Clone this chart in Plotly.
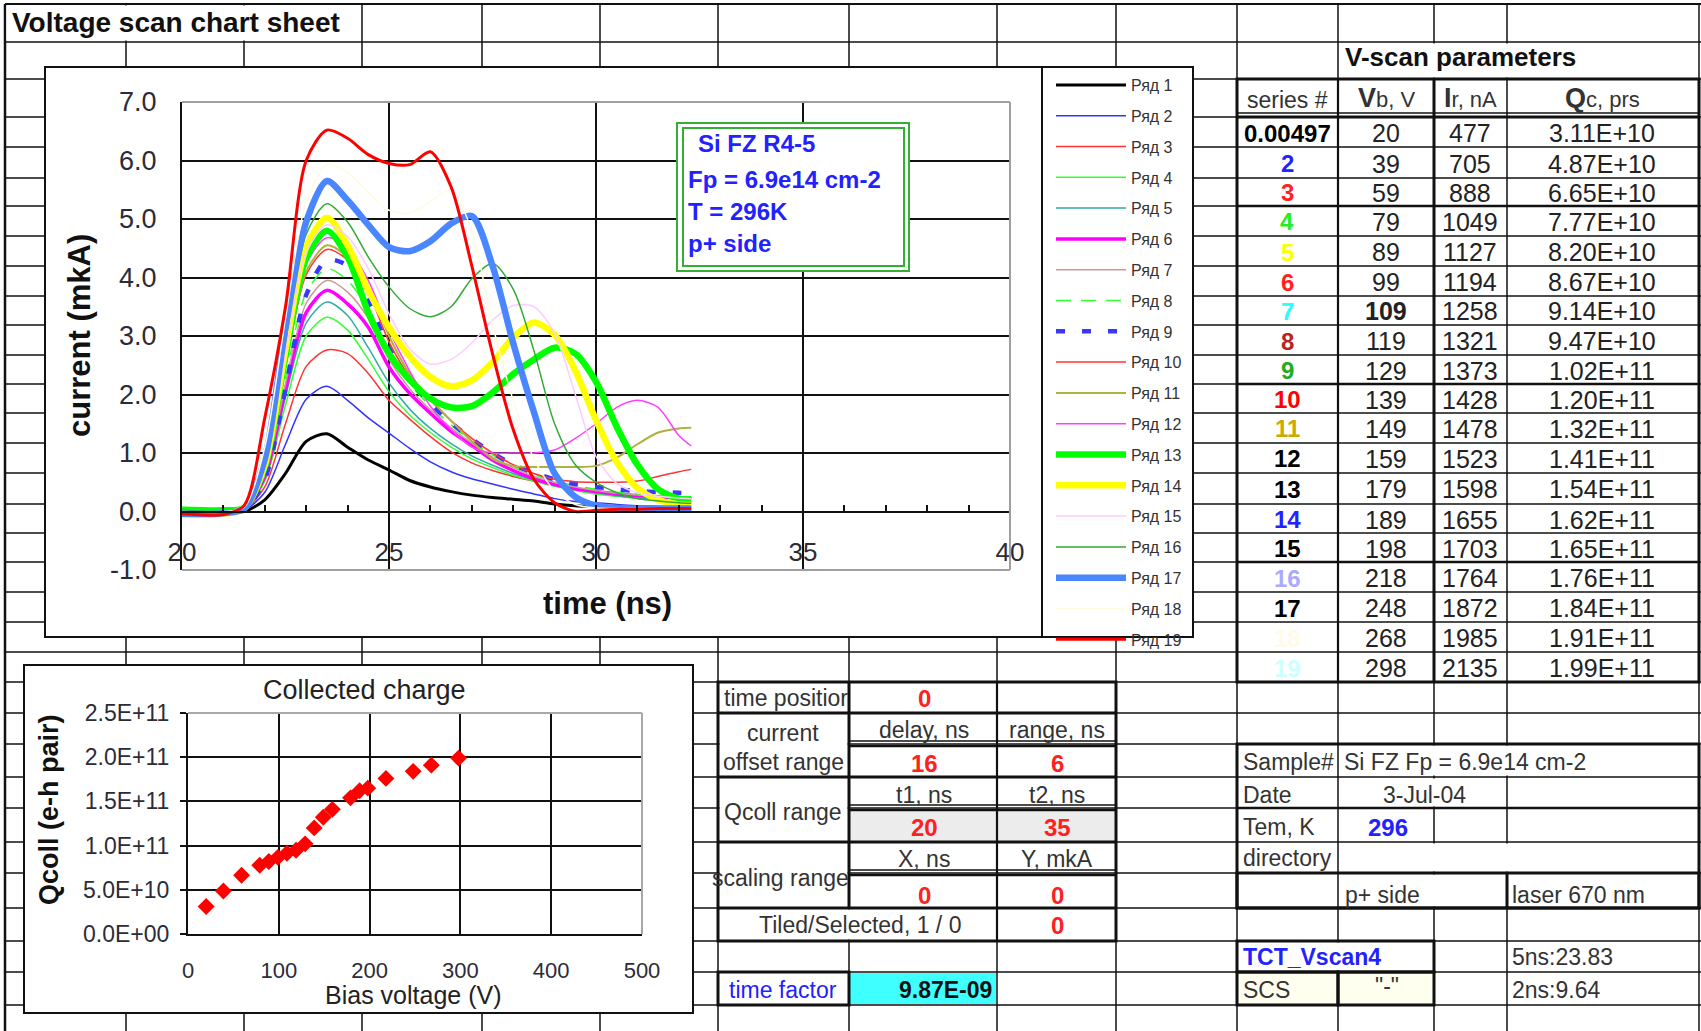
import plotly.graph_objects as go

W, H = 1701, 1031
def px(x): return x / W
def py(y): return 1 - y / H

# ---------------- data ----------------
time_ns = [20, 21, 21.5, 22, 22.5, 23, 23.5, 24, 24.5, 25, 25.5, 26, 26.5, 27, 27.5,
           28, 28.5, 29, 29.5, 30, 30.5, 31, 31.5, 32, 32.3]

series_names = ["Ряд 1", "Ряд 2", "Ряд 3", "Ряд 4", "Ряд 5", "Ряд 6", "Ряд 7", "Ряд 8",
                "Ряд 9", "Ряд 10", "Ряд 11", "Ряд 12", "Ряд 13", "Ряд 14", "Ряд 15",
                "Ряд 16", "Ряд 17", "Ряд 18", "Ряд 19"]

s1 = [0.00, 0.01, 0.00, 0.20, 0.65, 1.20, 1.33, 1.10, 0.88, 0.71, 0.53, 0.42, 0.34, 0.28, 0.24, 0.21, 0.18, 0.13, 0.10, 0.085, 0.07, 0.06, 0.05, 0.035, 0.03]
s2 = [0.01, 0.00, 0.02, 0.33, 1.15, 1.92, 2.14, 1.90, 1.60, 1.34, 1.08, 0.85, 0.68, 0.56, 0.47, 0.38, 0.30, 0.22, 0.17, 0.15, 0.12, 0.10, 0.09, 0.08, 0.08]
s3 = [-0.02, 0.00, 0.03, 0.42, 1.50, 2.48, 2.76, 2.70, 2.36, 1.90, 1.58, 1.28, 1.02, 0.83, 0.70, 0.60, 0.52, 0.45, 0.40, 0.35, 0.31, 0.28, 0.26, 0.24, 0.23]
s4 = [0.02, 0.01, 0.03, 0.52, 1.82, 3.00, 3.32, 3.10, 2.60, 2.05, 1.65, 1.35, 1.10, 0.90, 0.75, 0.62, 0.52, 0.43, 0.36, 0.30, 0.26, 0.22, 0.19, 0.16, 0.15]
s5 = [0.00, -0.02, 0.04, 0.56, 1.96, 3.22, 3.58, 3.35, 2.80, 2.20, 1.75, 1.42, 1.16, 0.95, 0.79, 0.65, 0.54, 0.45, 0.38, 0.32, 0.27, 0.23, 0.20, 0.17, 0.16]
s6 = [-0.03, -0.02, 0.04, 0.60, 2.08, 3.40, 3.78, 3.55, 3.15, 2.47, 2.02, 1.68, 1.37, 1.13, 0.88, 0.70, 0.56, 0.46, 0.39, 0.34, 0.30, 0.27, 0.25, 0.23, 0.22]
s7 = [0.01, 0.00, 0.04, 0.62, 2.18, 3.56, 3.95, 3.75, 3.30, 2.60, 2.10, 1.74, 1.43, 1.17, 0.93, 0.75, 0.60, 0.50, 0.42, 0.36, 0.31, 0.28, 0.26, 0.24, 0.23]
s8 = [0.02, 0.03, 0.05, 0.66, 2.28, 3.74, 4.15, 3.95, 3.45, 2.70, 2.18, 1.80, 1.48, 1.20, 0.97, 0.78, 0.63, 0.52, 0.44, 0.38, 0.33, 0.30, 0.28, 0.26, 0.25]
s9 = [0.00, 0.01, 0.03, 0.55, 2.10, 3.70, 4.30, 4.20, 3.60, 2.80, 2.25, 1.85, 1.52, 1.24, 1.00, 0.80, 0.66, 0.55, 0.47, 0.42, 0.38, 0.35, 0.33, 0.32, 0.31]
s10 = [-0.02, 0.00, 0.05, 0.72, 2.48, 4.05, 4.48, 4.30, 3.75, 2.90, 2.30, 1.90, 1.55, 1.25, 1.00, 0.80, 0.65, 0.55, 0.51, 0.50, 0.50, 0.52, 0.60, 0.68, 0.72]
s11 = [0.01, 0.02, 0.05, 0.73, 2.50, 4.10, 4.55, 4.35, 3.85, 3.00, 2.35, 1.92, 1.55, 1.20, 0.90, 0.78, 0.76, 0.76, 0.76, 0.78, 0.92, 1.15, 1.35, 1.42, 1.43]
s12 = [0.00, 0.01, 0.05, 0.75, 2.58, 4.23, 4.68, 4.50, 3.95, 3.10, 2.40, 1.80, 1.40, 1.10, 1.00, 1.00, 1.00, 1.05, 1.25, 1.50, 1.78, 1.90, 1.78, 1.30, 1.12]
s13 = [0.03, 0.02, 0.06, 0.77, 2.65, 4.33, 4.80, 4.35, 3.40, 2.70, 2.25, 1.93, 1.78, 1.80, 2.03, 2.35, 2.60, 2.80, 2.70, 2.22, 1.45, 0.80, 0.38, 0.22, 0.20]
s14 = [-0.05, -0.04, 0.06, 0.80, 2.77, 4.52, 5.02, 4.55, 3.78, 3.15, 2.65, 2.30, 2.14, 2.24, 2.55, 2.97, 3.23, 3.02, 2.41, 1.56, 0.85, 0.40, 0.20, 0.12, 0.11]
s15 = [0.00, 0.00, 0.06, 0.79, 2.70, 4.43, 4.90, 4.70, 4.15, 3.38, 2.78, 2.52, 2.60, 2.88, 3.27, 3.52, 3.50, 3.05, 2.00, 0.94, 0.48, 0.32, 0.26, 0.23, 0.22]
s16 = [0.02, 0.00, 0.06, 0.84, 2.90, 4.74, 5.26, 4.95, 4.35, 3.84, 3.47, 3.33, 3.50, 3.98, 4.24, 3.80, 2.75, 1.50, 0.80, 0.50, 0.32, 0.22, 0.18, 0.15, 0.14]
s17 = [-0.04, -0.03, 0.05, 0.90, 3.15, 4.95, 5.65, 5.32, 4.90, 4.52, 4.45, 4.62, 4.92, 5.05, 4.20, 2.88, 1.70, 0.65, 0.25, 0.10, 0.06, 0.05, 0.05, 0.05, 0.05]
s18 = [0.00, 0.00, 0.07, 1.10, 3.30, 5.30, 5.93, 5.80, 5.45, 5.15, 5.10, 5.30, 5.50, 4.80, 3.20, 1.90, 0.90, 0.35, 0.12, 0.06, 0.05, 0.05, 0.05, 0.05, 0.05]
s19 = [-0.04, -0.05, 0.10, 1.60, 3.50, 6.00, 6.52, 6.38, 6.10, 5.95, 5.93, 6.15, 5.55, 4.20, 2.70, 1.40, 0.55, 0.15, 0.00, 0.02, 0.04, 0.04, 0.05, 0.05, 0.05]
current_series = [s1, s2, s3, s4, s5, s6, s7, s8, s9, s10, s11, s12, s13, s14, s15, s16, s17, s18, s19]

series_ids = ["0.00497", "2", "3", "4", "5", "6", "7", "8", "9", "10", "11", "12", "13",
              "14", "15", "16", "17", "18", "19"]
bias_v = [20, 39, 59, 79, 89, 99, 109, 119, 129, 139, 149, 159, 179, 189, 198, 218, 248, 268, 298]
rev_current_nA = [477, 705, 888, 1049, 1127, 1194, 1258, 1321, 1373, 1428, 1478, 1523, 1598,
                  1655, 1703, 1764, 1872, 1985, 2135]
q_coll = [3.11e10, 4.87e10, 6.65e10, 7.77e10, 8.20e10, 8.67e10, 9.14e10, 9.47e10, 1.02e11,
          1.20e11, 1.32e11, 1.41e11, 1.54e11, 1.62e11, 1.65e11, 1.76e11, 1.84e11, 1.91e11, 1.99e11]

x_ticks_main = [20, 25, 30, 35, 40]
y_ticks_main = [-1, 0, 1, 2, 3, 4, 5, 6, 7]
y_tick_labels_main = ["-1.0", "0.0", "1.0", "2.0", "3.0", "4.0", "5.0", "6.0", "7.0"]
x_ticks_q = [0, 100, 200, 300, 400, 500]
y_ticks_q = [0, 5e10, 1e11, 1.5e11, 2e11, 2.5e11]
y_tick_labels_q = ["0.0E+00", "5.0E+10", "1.0E+11", "1.5E+11", "2.0E+11", "2.5E+11"]

# ---------------- styles ----------------
line_colors = ["#000000", "#3333ff", "#ff3333", "#33ff33", "#33aaaa", "#ff00ff", "#cc9999",
               "#33ff33", "#3838ff", "#ff3333", "#b0b040", "#ff40ff", "#00ff00", "#ffff00",
               "#ffccff", "#33aa33", "#4a86ff", "#fffbe0", "#ff0000"]
line_widths = [3, 1.5, 1.5, 1.5, 1.5, 3.5, 1.5, 1.5, 4.5, 1.5, 2, 1.5, 6.5, 6.5, 1.5, 1.5, 6.5, 1.5, 3]
line_dashes = ["solid"] * 19
line_dashes[7] = "15px,10px"
line_dashes[8] = "9px,17px"
id_colors = ["#000000", "#2222ff", "#ff2222", "#22ee22", "#ffff00", "#ff2222", "#22ffff",
             "#bb2222", "#22aa22", "#ff0000", "#ccaa00", "#000000", "#000000", "#2222ff",
             "#000000", "#aaaaff", "#000000", "#fffbe8", "#ccffff"]

FONT = "Liberation Sans, Arial, sans-serif"
TXT = "#222222"

fig = go.Figure()
for i, (name, ys) in enumerate(zip(series_names, current_series)):
    fig.add_trace(go.Scatter(
        x=time_ns, y=ys, mode="lines", name=name, legendgroup=f"g{i}",
        line=dict(color=line_colors[i], width=line_widths[i], dash=line_dashes[i],
                  shape="spline", smoothing=0.8),
        xaxis="x", yaxis="y", hoverinfo="skip"))

fig.add_trace(go.Scatter(
    x=bias_v, y=q_coll, mode="markers", showlegend=False,
    marker=dict(symbol="diamond", size=13, color="#ff0000"),
    xaxis="x2", yaxis="y2", hoverinfo="skip"))

# ---------------- spreadsheet background ----------------
shapes = []
def line(x0, y0, x1, y1, w=1.5, c="#111111", layer="below"):
    shapes.append(dict(type="line", xref="paper", yref="paper", x0=px(x0), y0=py(y0),
                       x1=px(x1), y1=py(y1), line=dict(color=c, width=w), layer=layer))

def rect(x0, y0, x1, y1, fill=None, lc=None, w=0, layer="below"):
    d = dict(type="rect", xref="paper", yref="paper", x0=px(x0), y0=py(y0), x1=px(x1),
             y1=py(y1), layer=layer,
             line=dict(width=w, color=lc if lc else "rgba(0,0,0,0)"))
    if fill:
        d["fillcolor"] = fill
    shapes.append(d)

cols = [5, 126, 244, 362, 482, 600, 718, 849, 997, 1116, 1237, 1338, 1434, 1507, 1699]
rows = [4, 42, 79, 117, 147, 178, 206, 236, 266, 296, 325, 355, 384, 413, 443, 473, 504,
        533, 562, 592, 622, 652, 682, 713, 744, 777, 808, 842, 873, 908, 941, 972, 1005]
for c in cols:
    line(c, 4, c, 1031)
for r in rows:
    line(5, r, 1701, r)
line(5, 4, 5, 1031, w=2.5)
line(5, 4, 1701, 4, w=2)

# merged cells (no inner grid)
merged = [(5, 4, 362, 42), (1338, 42, 1699, 79), (718, 713, 849, 777), (718, 777, 849, 842),
          (718, 842, 849, 908), (718, 908, 997, 941), (1338, 744, 1699, 777),
          (1338, 777, 1507, 808), (1338, 842, 1699, 873), (1338, 873, 1507, 908),
          (1237, 941, 1434, 972)]
for (a, b, c, d) in merged:
    rect(a + 1.5, b + 1.5, c - 1.5, d - 1.5, fill="white")

# cell fills
rect(850, 809, 996, 841, fill="#ececec")
rect(998, 809, 1115, 841, fill="#ececec")
rect(850, 973, 996, 1004, fill="#40ffff")
rect(1238, 973, 1337, 1004, fill="#fffff0")
rect(1339, 973, 1433, 1004, fill="#fffff0")

# table borders: right table
rect(1237, 79, 1699, 682, lc="#111", w=3)
line(1237, 113, 1699, 113, w=1.5)
line(1237, 117, 1699, 117, w=3)
for yy in (206, 384, 562):
    line(1237, yy, 1699, yy, w=2.5)
line(1434, 79, 1434, 682, w=3)
line(1338, 79, 1338, 682, w=2.2)
# bottom centre table
rect(718, 682, 1116, 941, lc="#111", w=3)
for yy in (713, 777, 842, 908):
    line(718, yy, 1116, yy, w=3)
for yy in (744, 808, 873):
    line(849, yy - 3, 1116, yy - 3, w=1.5)
    line(849, yy + 2, 1116, yy + 2, w=2.5)
line(849, 682, 849, 908, w=3)
line(997, 682, 997, 941, w=2.2)
rect(718, 972, 849, 1005, lc="#111", w=3)
# bottom right table
rect(1237, 744, 1699, 908, lc="#111", w=3)
line(1237, 808, 1699, 808, w=2.5)
rect(1237, 873, 1699, 908, lc="#111", w=3)
line(1507, 873, 1507, 908, w=3)
rect(1237, 941, 1434, 972, lc="#111", w=3)
rect(1237, 972, 1338, 1005, lc="#111", w=3)
rect(1338, 972, 1434, 1005, lc="#111", w=3)

# chart frames
rect(45, 67, 1193, 637, fill="white", lc="#111", w=2)
line(1042, 67, 1042, 637, w=2)
rect(24, 665, 693, 1013, fill="white", lc="#111", w=2)

# plot-area borders and the note box
line(182, 102, 1010, 102, w=2, c="#a0a0a0", layer="above")
line(1010, 102, 1010, 570, w=2, c="#a0a0a0", layer="above")
line(182, 570, 1010, 570, w=2, c="#a0a0a0", layer="above")
line(188, 713, 642, 713, w=2, c="#a8a8a8", layer="above")
line(642, 713, 642, 934, w=2, c="#a8a8a8", layer="above")
rect(677, 123, 909, 271, fill="white", lc="#33b033", w=2, layer="above")
rect(683, 128, 904, 266, lc="#33b033", w=2, layer="above")

# ---------------- texts ----------------
annotations = []
def ann(x, y, text, size=23, color=TXT, bold=False, xanchor="center", angle=0):
    annotations.append(dict(xref="paper", yref="paper", x=px(x), y=py(y),
                            text=(f"<b>{text}</b>" if bold else text), showarrow=False,
                            font=dict(size=size, color=color, family=FONT),
                            xanchor=xanchor, yanchor="middle", textangle=angle))

ann(10, 22, "Voltage scan chart sheet", 28, "#111", True, "left")
# main chart
ann(79, 336, "current (mkA)", 31, "#111", True, angle=-90)
ann(607, 603, "time (ns)", 31, "#111", True)
BLUE = "#2222ff"
ann(696, 143, "Si FZ R4-5", 24, BLUE, True, "left")
ann(686, 179, "Fp = 6.9e14 cm-2", 24, BLUE, True, "left")
ann(686, 211, "T = 296K", 24, BLUE, True, "left")
ann(686, 244, "p+ side", 24, BLUE, True, "left")
# small chart
ann(364, 690, "Collected charge", 27, "#222")
ann(49, 810, "Qcoll (e-h pair)", 27, "#111", True, angle=-90)
ann(413, 995, "Bias voltage (V)", 25, "#222")

# right table
ann(1343, 57, "V-scan parameters", 26, "#111", True, "left")
ann(1287, 100, "series #", 23, "#333")
ann(1386, 98, '<b><span style="font-size:27px">V</span></b>b, V', 22, "#333")
ann(1470, 98, '<b><span style="font-size:27px">I</span></b>r, nA', 22, "#333")
ann(1602, 98, '<b><span style="font-size:27px">Q</span></b>c, prs', 22, "#333")
row_edges = [117, 147, 178, 206, 236, 266, 296, 325, 355, 384, 413, 443, 473, 504, 533, 562,
             592, 622, 652, 682]
for i in range(19):
    yc = (row_edges[i] + row_edges[i + 1]) / 2 + 1
    ann(1287, yc, series_ids[i], 24, id_colors[i], True)
    ann(1386, yc, str(bias_v[i]), 25, "#222", bias_v[i] == 109)
    ann(1470, yc, str(rev_current_nA[i]), 25, "#222")
    ann(1602, yc, f"{q_coll[i]:.2E}", 25, "#222")

# bottom centre table
RED = "#ff2020"
ann(722, 698, "time positior", 23, "#333", False, "left")
ann(924, 698, "0", 24, RED, True)
ann(783, 733, "current", 23, "#333")
ann(783, 762, "offset range", 23, "#333")
ann(924, 730, "delay, ns", 23, "#333")
ann(1057, 730, "range, ns", 23, "#333")
ann(924, 763, "16", 24, RED, True)
ann(1057, 763, "6", 24, RED, True)
ann(783, 812, "Qcoll range", 23, "#333")
ann(924, 795, "t1, ns", 23, "#333")
ann(1057, 795, "t2, ns", 23, "#333")
ann(924, 827, "20", 24, RED, True)
ann(1057, 827, "35", 24, RED, True)
ann(780, 878, "scaling range", 23, "#333")
ann(924, 859, "X, ns", 23, "#333")
ann(1057, 859, "Y, mkA", 23, "#333")
ann(924, 895, "0", 24, RED, True)
ann(1057, 895, "0", 24, RED, True)
ann(860, 925, "Tiled/Selected, 1 / 0", 23, "#333")
ann(1057, 925, "0", 24, RED, True)
ann(783, 990, "time factor", 23, BLUE)
ann(994, 990, "9.87E-09", 23, "#111", True, "right")

# bottom right table
ann(1241, 762, "Sample#", 23, "#333", False, "left")
ann(1342, 762, "Si FZ Fp = 6.9e14 cm-2", 23, "#333", False, "left")
ann(1241, 795, "Date", 23, "#333", False, "left")
ann(1424, 795, "3-Jul-04", 23, "#333")
ann(1241, 827, "Tem, K", 23, "#333", False, "left")
ann(1388, 827, "296", 24, BLUE, True)
ann(1241, 858, "directory", 23, "#333", False, "left")
ann(1343, 895, "p+ side", 23, "#333", False, "left")
ann(1510, 895, "laser 670 nm", 23, "#333", False, "left")
ann(1241, 957, "TCT_Vscan4", 23, BLUE, True, "left")
ann(1510, 957, "5ns:23.83", 23, "#333", False, "left")
ann(1241, 990, "SCS", 23, "#333", False, "left")
ann(1387, 986, '"-"', 23, "#333")
ann(1510, 990, "2ns:9.64", 23, "#333", False, "left")

# ---------------- axes ----------------
ydom = [py(570), py(102)]
ymin, ymax = -1, 7
x_axis_pos = ydom[0] + (0 - ymin) / (ymax - ymin) * (ydom[1] - ydom[0])
TICKC = "#2c2c38"

fig.update_layout(
    width=W, height=H, autosize=False,
    margin=dict(l=0, r=0, t=0, b=0, pad=0, autoexpand=False),
    paper_bgcolor="white", plot_bgcolor="rgba(0,0,0,0)",
    font=dict(family=FONT, color=TXT),
    shapes=shapes, annotations=annotations,
    xaxis=dict(domain=[px(182), px(1010)], range=[20, 40], anchor="free", position=x_axis_pos,
               tickvals=x_ticks_main, ticks="inside", ticklen=6, tickwidth=1.5, tickcolor="#111",
               minor=dict(tickmode="linear", tick0=20, dtick=1, ticks="inside", ticklen=6,
                          tickwidth=1.5, tickcolor="#111", showgrid=False),
               showgrid=True, gridcolor="#111", gridwidth=2, showline=True, linecolor="#111",
               linewidth=2, zeroline=False, tickfont=dict(size=26, color=TICKC),
               ticklabelstandoff=17, fixedrange=True, automargin=False),
    yaxis=dict(domain=ydom, range=[ymin, ymax], tickvals=y_ticks_main, ticktext=y_tick_labels_main,
               ticks="inside", ticklen=6, tickwidth=1.5, tickcolor="#111", showgrid=True,
               gridcolor="#111", gridwidth=2, showline=True, linecolor="#111", linewidth=2,
               zeroline=False, anchor="x", tickfont=dict(size=27, color=TICKC),
               ticklabelstandoff=18, fixedrange=True, automargin=False),
    xaxis2=dict(domain=[px(188), px(642)], range=[0, 500], anchor="y2", tickvals=x_ticks_q,
                ticks="", showgrid=True, gridcolor="#111", gridwidth=1.6, showline=True,
                linecolor="#111", linewidth=2, zeroline=False,
                tickfont=dict(size=22, color=TICKC), ticklabelstandoff=16, fixedrange=True,
                automargin=False),
    yaxis2=dict(domain=[py(934), py(713)], range=[0, 2.5e11], anchor="x2", tickvals=y_ticks_q,
                ticktext=y_tick_labels_q, ticks="outside", ticklen=6, tickwidth=1.5,
                tickcolor="#111", showgrid=True, gridcolor="#111", gridwidth=1.6,
                showline=True, linecolor="#111", linewidth=2, zeroline=False,
                tickfont=dict(size=23, color=TICKC), ticklabelstandoff=6, fixedrange=True,
                automargin=False),
    legend=dict(x=px(1051), y=py(68), xanchor="left", yanchor="top",
                bgcolor="rgba(0,0,0,0)", borderwidth=0, font=dict(size=16, color="#333", family=FONT),
                itemwidth=70, tracegroupgap=7, traceorder="grouped",
                itemclick=False, itemdoubleclick=False),
    showlegend=True,
)

fig.write_html("out.html", config={"displayModeBar": False},
               post_script="document.body.style.margin='0';document.body.style.overflow='hidden';")
